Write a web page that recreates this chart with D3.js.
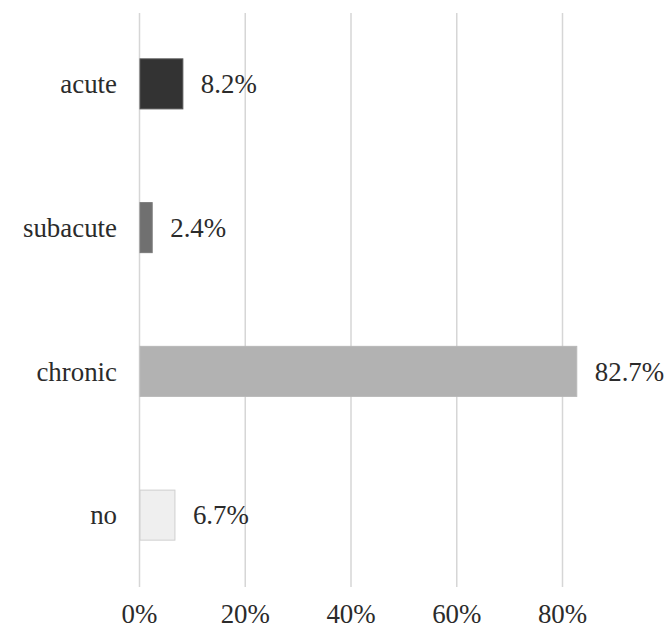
<!DOCTYPE html>
<html>
<head>
<meta charset="utf-8">
<script src="https://cdn.jsdelivr.net/npm/d3@7"></script>
<style>
  html, body { margin: 0; padding: 0; background: #fff; }
  svg { display: block; }
</style>
</head>
<body>
<svg id="chart" width="672" height="628"></svg>
<script>
// Onset categories and their shares (%)
const categories = ["acute", "subacute", "chronic", "no"];
const shares = [8.2, 2.4, 82.7, 6.7];
const tickValues = [0, 20, 40, 60, 80];
const tickLabels = ["0%", "20%", "40%", "60%", "80%"];
const fills = ["#333333", "#707070", "#b2b2b2", "#efefef"];
const strokes = ["#555555", "#7a7a7a", "#b8b8b8", "#cfcfcf"];

const svg = d3.select("#chart");
const fontSize = 28;
const squeeze = 0.96; // slight horizontal compression of the lettering

const x = d3.scaleLinear().domain([0, 80]).range([139.5, 562.5]);
const y = d3.scaleBand().domain(categories).range([12, 587])
  .paddingInner(0.652).paddingOuter(0.326);

// vertical gridlines
svg.append("g").selectAll("line").data(tickValues).join("line")
  .attr("x1", d => x(d)).attr("x2", d => x(d))
  .attr("y1", 13).attr("y2", 587)
  .attr("stroke", "#d6d6d6").attr("stroke-width", 1.5);

// bars
svg.append("g").selectAll("rect").data(categories).join("rect")
  .attr("x", x(0) + 0.5)
  .attr("y", d => y(d))
  .attr("width", (d, i) => x(shares[i]) - x(0) - 0.5)
  .attr("height", y.bandwidth())
  .attr("fill", (d, i) => fills[i])
  .attr("stroke", (d, i) => strokes[i])
  .attr("stroke-width", 1);

function squeezedText(g, px, py, anchor, str) {
  g.append("text")
    .attr("transform", `translate(${px},${py}) scale(${squeeze},1)`)
    .attr("text-anchor", anchor)
    .attr("dy", "0.33em")
    .attr("font-family", "Liberation Serif")
    .attr("font-size", fontSize)
    .attr("fill", "#2b2b2b")
    .text(str);
}

// category labels
const catG = svg.append("g");
categories.forEach(c => squeezedText(catG, 117, y(c) + y.bandwidth() / 2, "end", c));

// value labels
const valG = svg.append("g");
categories.forEach((c, i) =>
  squeezedText(valG, x(shares[i]) + 18, y(c) + y.bandwidth() / 2, "start", shares[i].toFixed(1) + "%"));

// x tick labels
const tickG = svg.append("g");
tickValues.forEach((v, i) => squeezedText(tickG, x(v), 614, "middle", tickLabels[i]));
</script>
</body>
</html>
